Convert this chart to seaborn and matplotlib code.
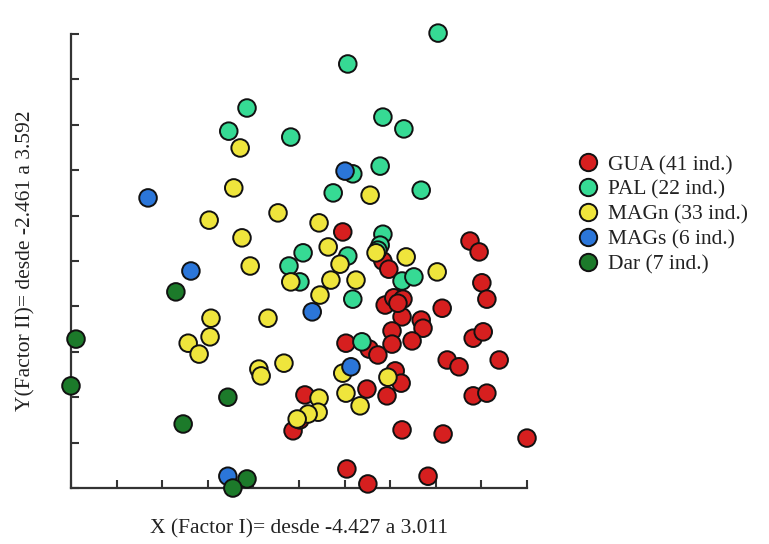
import matplotlib
matplotlib.use("Agg")
import matplotlib.pyplot as plt
import seaborn as sns
import pandas as pd

# Factor scores on a 10-division grid (Factor I horizontal, Factor II vertical)
gua_x = [5.96, 8.75, 8.95, 6.84, 6.97, 9.01, 9.12, 6.89, 7.08, 7.28, 7.26, 8.14, 7.68, 7.72,
         7.04, 7.04, 7.48, 8.82, 9.04, 6.03, 6.54, 6.73, 8.25, 8.51, 9.39, 7.11, 7.24, 6.49,
         6.93, 5.13, 8.82, 9.12, 4.87, 7.26, 8.16, 10.00, 6.05, 6.51, 7.83, 5.02, 7.17]
gua_y = [5.64, 5.44, 5.20, 5.00, 4.82, 4.52, 4.16, 4.03, 4.19, 4.16, 3.77, 3.96, 3.70, 3.52,
         3.46, 3.17, 3.24, 3.30, 3.44, 3.19, 3.06, 2.93, 2.82, 2.67, 2.82, 2.58, 2.31, 2.18,
         2.03, 2.05, 2.03, 2.09, 1.26, 1.28, 1.19, 1.10, 0.42, 0.09, 0.26, 1.50, 4.07]

pal_x = [8.05, 6.07, 3.86, 3.46, 4.82, 6.84, 7.30, 6.78, 6.18, 7.68, 5.75, 6.84, 5.09, 6.07,
         4.78, 6.78, 7.26, 7.52, 5.02, 6.18, 6.38, 6.73]
pal_y = [10.02, 9.34, 8.37, 7.86, 7.73, 8.17, 7.91, 7.09, 6.92, 6.56, 6.50, 5.59, 5.18, 5.11,
         4.89, 5.35, 4.56, 4.65, 4.54, 4.16, 3.22, 5.24]

magn_x = [3.71, 3.57, 3.03, 4.54, 3.75, 3.93, 6.56, 5.44, 5.64, 6.69, 7.35, 5.90, 8.03, 4.82,
          5.70, 6.25, 5.46, 3.07, 4.32, 3.05, 2.57, 2.81, 4.12, 4.17, 4.67, 5.96, 6.95, 6.03,
          5.44, 6.34, 5.42, 5.20, 4.96]
magn_y = [7.49, 6.61, 5.90, 6.06, 5.51, 4.89, 6.45, 5.84, 5.31, 5.18, 5.09, 4.93, 4.76, 4.54,
          4.58, 4.58, 4.25, 3.74, 3.74, 3.33, 3.19, 2.95, 2.62, 2.47, 2.75, 2.53, 2.44, 2.09,
          1.98, 1.81, 1.67, 1.63, 1.52]

mags_x = [1.69, 2.63, 6.01, 5.29, 6.14, 3.44]
mags_y = [6.39, 4.78, 6.98, 3.88, 2.67, 0.26]

dar_x = [2.30, 0.11, 0.00, 3.44, 2.46, 3.86, 3.55]
dar_y = [4.32, 3.28, 2.25, 2.00, 1.41, 0.20, 0.00]

groups = ["GUA", "PAL", "MAGn", "MAGs", "Dar"]
colors = ["#d61f1f", "#36da94", "#efe53c", "#2b76d9", "#1c7a2a"]
xs = [gua_x, pal_x, magn_x, mags_x, dar_x]
ys = [gua_y, pal_y, magn_y, mags_y, dar_y]

frames = []
for name, gx, gy in zip(groups, xs, ys):
    frames.append(pd.DataFrame({"x": gx, "y": gy,
                                "grupo": f"{name} ({len(gx)} ind.)"}))
df = pd.concat(frames, ignore_index=True)
hue_order = list(df["grupo"].unique())
palette = dict(zip(hue_order, colors))

sns.set_style("white")
plt.rcParams["font.family"] = ["Liberation Serif", "DejaVu Serif"]

fig = plt.figure(figsize=(7.69, 5.44), dpi=100)
ax = fig.add_axes([0.0923, 0.1029, 0.593, 0.8346])

sns.scatterplot(data=df, x="x", y="y", hue="grupo", hue_order=hue_order,
                palette=palette, s=160, edgecolor="#111111", linewidth=1.4,
                clip_on=False, zorder=3, ax=ax)

ax.set_xlim(0, 10)
ax.set_ylim(0, 10)
ax.set_xticks(range(11))
ax.set_yticks(range(11))
ax.set_xticklabels([])
ax.set_yticklabels([])
ax.tick_params(direction="in", length=6, width=1.5, color="#333333",
               bottom=True, left=True)
for side in ("top", "right"):
    ax.spines[side].set_visible(False)
for side in ("left", "bottom"):
    ax.spines[side].set_color("#333333")
    ax.spines[side].set_linewidth(1.6)

ax.set_xlabel("X (Factor I)= desde -4.427 a 3.011", fontsize=15.5, color="#222222",
              labelpad=19)
ax.set_ylabel("Y(Factor II)= desde -2.461 a 3.592", fontsize=15.5, color="#222222",
              labelpad=22)

handles, labels = ax.get_legend_handles_labels()
for h in handles:
    h.set_markeredgecolor("#111111")
    h.set_markeredgewidth(1.4)
    h.set_markersize(12.5)
ax.get_legend().remove()
fig.legend(handles, labels, loc="upper left", bbox_to_anchor=(0.737, 0.735),
           frameon=False, fontsize=15.5, handletextpad=0.4, labelspacing=0.22,
           borderpad=0, handlelength=1.0, labelcolor="#222222")

fig.savefig("out.png", dpi=100)
